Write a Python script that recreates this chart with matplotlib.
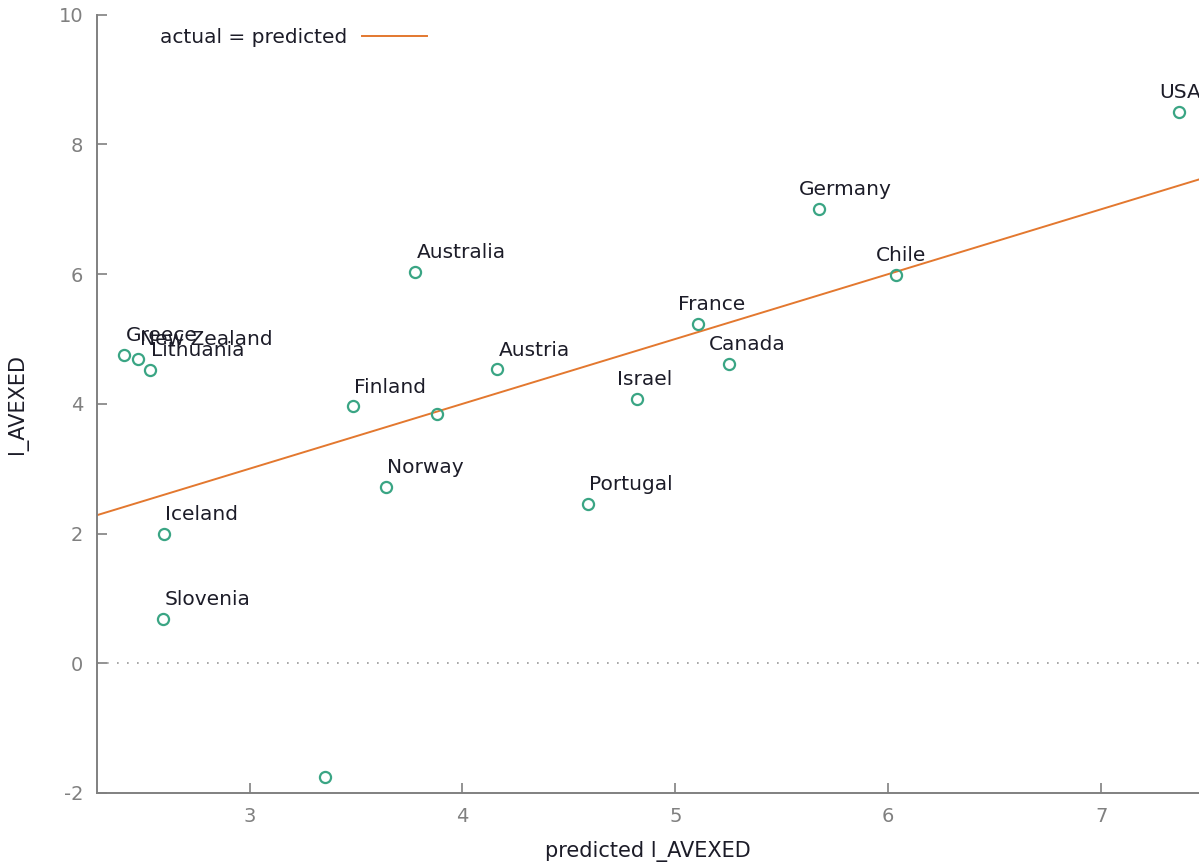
import matplotlib
matplotlib.use("Agg")
import matplotlib.pyplot as plt

# fitted vs actual l_AVEXED by country ('' = unlabelled point)
paises = ['Greece', 'New Zealand', 'Lithuania', 'Iceland', 'Slovenia', '',
          'Finland', '', 'Norway', 'Australia', 'Austria', 'Portugal',
          'Israel', 'France', 'Canada', 'Germany', 'Chile', 'USA']
predicho = [2.411, 2.478, 2.533, 2.598, 2.594, 3.356,
            3.485, 3.879, 3.641, 3.779, 4.164, 4.590,
            4.822, 5.107, 5.251, 5.674, 6.038, 7.367]
actual = [4.75, 4.69, 4.52, 2.00, 0.69, -1.76,
          3.96, 3.85, 2.72, 6.04, 4.53, 2.46,
          4.07, 5.23, 4.61, 7.00, 5.99, 8.50]

x_min, x_max = 2.285, 7.46
y_ticks = [-2, 0, 2, 4, 6, 8, 10]
x_ticks = [3, 4, 5, 6, 7]

gris = '#808080'
verde = '#3aa584'
naranja = '#e3782f'
texto = '#1c1c28'

plt.rcParams['font.family'] = ['DejaVu Sans']
plt.rcParams['axes.unicode_minus'] = False

fig = plt.figure(figsize=(11.99, 8.67), dpi=100)
ax = fig.add_axes([97.3 / 1199, 74 / 867, 1 - 97.3 / 1199, (793.3 - 15) / 867])

ax.axhline(0, color='#999999', linestyle=(0, (1, 5)), linewidth=1.2, zorder=1)

ax.plot([x_min, x_max], [x_min, x_max], color=naranja, linewidth=1.4,
        label='actual = predicted', zorder=2)
ax.plot(predicho, actual, linestyle='none', marker='o', markersize=8,
        markerfacecolor='none', markeredgecolor=verde, markeredgewidth=1.6,
        zorder=3)

# labels on the right half sit a little to the left of their point
for nombre, xv, yv in zip(paises, predicho, actual):
    if nombre:
        dx = -14.5 if xv > 4.7 else 1
        ax.annotate(nombre, (xv, yv), xytext=(dx, 10), textcoords='offset points',
                    ha='left', va='baseline', fontsize=14.5, color=texto,
                    annotation_clip=False)

ax.set_xlim(x_min, x_max)
ax.set_ylim(-2, 10)
ax.set_xticks(x_ticks)
ax.set_yticks(y_ticks)

for lado in ['top', 'right']:
    ax.spines[lado].set_visible(False)
for lado in ['left', 'bottom']:
    ax.spines[lado].set_color(gris)
    ax.spines[lado].set_linewidth(1.4)

ax.tick_params(direction='in', length=7, width=1.2, color=gris,
               labelcolor=gris, labelsize=14, pad=10)

ax.set_xlabel('predicted l_AVEXED', fontsize=15, color=texto, labelpad=11)
ax.set_ylabel('l_AVEXED', fontsize=15, color=texto)
ax.yaxis.set_label_coords(-0.063, 0.5)

leg = ax.legend(loc='upper left', bbox_to_anchor=(0.057, 0.983), frameon=False,
                markerfirst=False, fontsize=14.5, handlelength=3.2,
                handletextpad=0.75, borderpad=0, borderaxespad=0)
for t in leg.get_texts():
    t.set_color(texto)

fig.savefig('out.png', dpi=100)
